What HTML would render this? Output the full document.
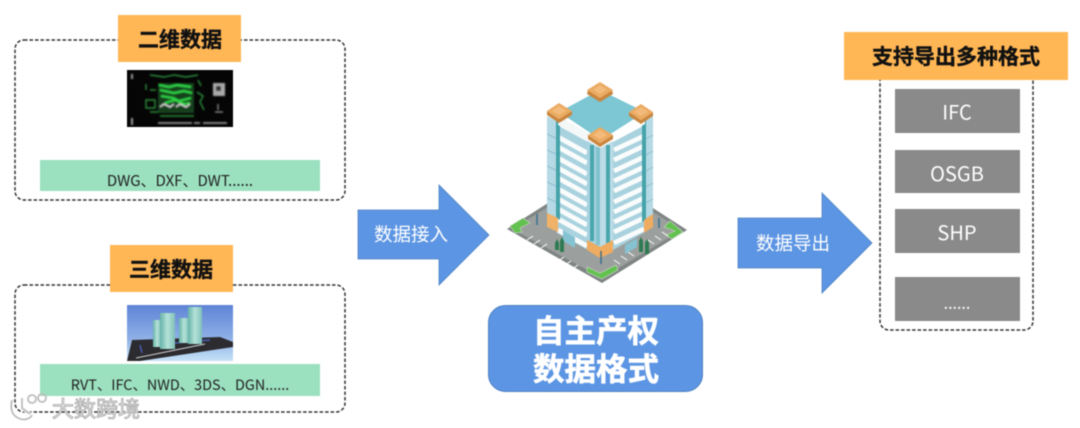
<!DOCTYPE html>
<html><head><meta charset="utf-8"><style>
html,body{margin:0;padding:0;background:#fff;width:1080px;height:428px;overflow:hidden}
svg{display:block;filter:blur(.45px)}
text{font-family:"Noto Sans CJK SC","Liberation Sans",sans-serif;text-anchor:middle}
</style></head><body>
<svg width="1080" height="428" viewBox="0 0 1080 428" xmlns="http://www.w3.org/2000/svg">
<defs>
<linearGradient id="sky" x1="0" y1="0" x2="0" y2="1"><stop offset="0" stop-color="#5f84d6"/><stop offset=".6" stop-color="#8fb0e6"/><stop offset="1" stop-color="#c5e2f7"/></linearGradient>
<linearGradient id="tw" x1="0" y1="0" x2="1" y2="0"><stop offset="0" stop-color="#66b3a8"/><stop offset=".5" stop-color="#b5e2d8"/><stop offset="1" stop-color="#7fc0b8"/></linearGradient>
<filter id="soft" x="-10%" y="-10%" width="120%" height="120%"><feGaussianBlur stdDeviation=".7"/></filter>
</defs>
<rect width="1080" height="428" fill="#fff"/>

<!-- 2D panel -->
<rect x="15" y="40" width="330" height="160" rx="9" fill="none" stroke="#333" stroke-width="1.5" stroke-dasharray="3.5 2"/>
<rect x="118" y="15" width="123" height="47" fill="#ffb655"/>
<text x="180" y="47" font-size="21" font-weight="700" fill="#111" stroke="#111" stroke-width=".4">二维数据</text>
<rect x="127" y="70" width="106" height="57" fill="#050505"/>
<g filter="url(#soft)">
<rect x="158" y="83" width="36" height="30" fill="#15401c"/>
<g fill="none">
<path d="M159 85l10 2 8-2 14 2M160 90l14 3 10-2 8 2M161 96l12 2 6 3 12-3M165 103l10-3 9 4 6-1" stroke="#2fd145" stroke-width="2.4"/>
<path d="M150 75l14 2 10-2 12 2 12-2M146 84v6M150 90h6M146 100h9v8h-9zM150 112h8M198 80l3 6M197 92l6 4-3 6 4 8M160 116h34" stroke="#2a8f3a" stroke-width="1.4"/>
<path d="M160 107l4-3 6 3 4-3M176 107l4-3 6 3 4-3" stroke="#ddd" stroke-width="1.4"/>
<path d="M158 123h30M186 123h6M194 123h6M203 123h24" stroke="#aaa" stroke-width="1.4"/>
<path d="M132 74v5M132 118v7" stroke="#ccc" stroke-width="1.5"/>
<path d="M218 104v6M215 112h8" stroke="#bbb"/>
</g>
<rect x="213" y="83" width="12" height="13" fill="#aaa"/><rect x="216" y="86" width="5" height="5" fill="#333"/>
</g>
<rect x="40" y="160" width="280" height="31" fill="#9be0bf"/>
<text x="180" y="186" font-size="15" fill="#222">DWG、DXF、DWT......</text>

<!-- 3D panel -->
<rect x="15" y="285" width="330" height="127" rx="9" fill="none" stroke="#333" stroke-width="1.5" stroke-dasharray="3.5 2"/>
<rect x="110" y="245" width="123" height="47" fill="#ffb655"/>
<text x="171" y="277" font-size="21" font-weight="700" fill="#111" stroke="#111" stroke-width=".4">三维数据</text>
<rect x="127" y="305" width="106" height="56" fill="url(#sky)"/>
<polygon points="132,340 220,337 233,342 233,347 140,361 127,361" fill="#2c2c30"/>
<path d="M136 358L205 344" stroke="#cfcfcf" stroke-width="1"/>
<path d="M140 345l2 8M175 343l35-3" stroke="#4a5bb0" stroke-width="1.5"/>
<rect x="153" y="320" width="8" height="27" fill="url(#tw)"/>
<rect x="160" y="313" width="15" height="36" fill="url(#tw)"/>
<rect x="179" y="318" width="10" height="25" fill="url(#tw)"/>
<rect x="188" y="307" width="14" height="37" fill="url(#tw)"/>

<rect x="40" y="364" width="280" height="32" fill="#9be0bf"/>
<text x="180" y="390" font-size="14.400" fill="#222">RVT、IFC、NWD、3DS、DGN......</text>

<!-- watermark -->
<g>
<g fill="none" stroke="#fff" stroke-width="4" opacity=".85">
<path d="M12 400c-2 9 0 15 6 18s12 1 14-3M22 398l0 10l8 6"/>
</g>
<g fill="none" stroke="#bdbdbd" stroke-width="1.8">
<path d="M12 400c-2 9 0 15 6 18s12 1 14-3M22 398l0 10l8 6"/>
<circle cx="32" cy="399" r="4"/><circle cx="42" cy="398" r="4"/>
</g>
<text x="96" y="417" font-size="22" fill="#e8e8e8" stroke="#a8a8a8" stroke-width=".8">大数跨境</text>
</g>

<!-- arrows -->
<polygon points="358,210 439,210 439,185 489,235 439,285 439,259 358,259" fill="#5c95e3" stroke="#4f82c4" stroke-width=".8"/>
<text x="411" y="241" font-size="18.500" fill="#fff">数据接入</text>
<polygon points="738,218 822,218 822,193 872,243 822,293 822,268 738,268" fill="#5c95e3" stroke="#4f82c4" stroke-width=".8"/>
<text x="793" y="250" font-size="18.500" fill="#fff">数据导出</text>

<!-- ground -->
<polygon points="507,229 597,172 687,230 602,283" fill="#7f8584"/>
<polygon points="512,229 597,177 682,230 602,278" fill="#9b9f9d"/>
<g fill="#63c24f" stroke="#cfd8cf" stroke-width=".6">
<polygon points="510,226 523,218 530,223 520,228 522,232 515,233"/>
<polygon points="664,227 670,221 683,232 672,239 666,235 675,231"/>
<polygon points="587,267 600,273 616,265 618,270 602,279 587,272"/>
</g>
<path d="M533 236l-6 4M540 240l-6 4M547 244l-6 4M564 257l-6 4M571 261l-6 4M578 265l-6 4M620 264l-6-4M627 260l-6-4M634 256l-6-4M654 244l-6-4M661 240l-6-4M668 236l-6-4" stroke="#fff" stroke-width="1" fill="none"/>

<!-- faces -->
<polygon points="557,125 588,142 588,250 557,233" fill="#a9d2df"/>
<polygon points="613,142 645,125 645,232 613,250" fill="#a9d2df"/>
<g stroke="#fafcfc" stroke-width="4.800" fill="none">
<path d="M558 137l29 16M558 147l29 16M558 158l29 16M558 168l29 16M558 178l29 16M558 189l29 16M558 199l29 16M558 209l29 16M558 219l29 16M558 230l29 16"/>
<path d="M614 150l30-14M614 160l30-14M614 171l30-14M614 181l30-14M614 191l30-14M614 202l30-14M614 212l30-14M614 222l30-14M614 232l30-14M614 243l30-14"/>
</g>
<!-- corner columns -->
<polygon points="547,116 558,122 558,218 547,213" fill="#b5d9e5"/>
<path d="M547 134l11 5M547 150l11 5M547 166l11 5M547 182l11 5M547 198l11 5" stroke="#8cc0d0" fill="none"/>
<polygon points="556,121 560,123 560,220 556,218" fill="#45a3a9"/>
<polygon points="644,122 653,116 653,214 644,220" fill="#b5d9e5"/>
<path d="M644 140l9-5M644 156l9-5M644 172l9-5M644 188l9-5M644 204l9-5" stroke="#8cc0d0" fill="none"/>
<polygon points="642,122 646,120 646,220 642,222" fill="#45a3a9"/>
<polygon points="587,138 600,146 600,247 587,240" fill="#a9d3e0"/>
<polygon points="600,146 613,138 613,240 600,247" fill="#bcdce7"/>
<rect x="590" y="145" width="4" height="96" fill="#4aa7ad"/>
<rect x="596" y="147" width="4" height="98" fill="#7fc3cf"/>
<rect x="606" y="145" width="4" height="98" fill="#4aa7ad"/>
<!-- base -->
<polygon points="547,213 558,218 558,232 547,227" fill="#f0b268"/>
<polygon points="587,240 600,247 613,240 613,252 600,258 587,250" fill="#efac60"/>
<polygon points="644,220 653,214 653,227 644,233" fill="#efac60"/>
<polygon points="563,230 575,237 575,248 563,241" fill="#86c3d2"/>
<polygon points="625,245 637,238 637,247 625,254" fill="#86c3d2"/>
<!-- roof -->
<polygon points="559,112 600,90 645,112 601,140" fill="#7cc7d3"/>
<polygon points="558,125 600,148 600,140 559,116" fill="#f4f7f7"/>
<polygon points="600,148 645,124 645,116 600,140" fill="#ffffff"/>
<!-- caps -->
<g>
<polygon points="588,90 600,98 612,90 613,94 600,102 587,94" fill="#c9863f"/><polygon points="600,82 613,90 600,98 587,90" fill="#ecab62"/><polygon points="600,85 607,90 600,94 593,90" fill="#f2bb7c"/>
<polygon points="547,111 559,119 572,111 572,115 559,123 547,115" fill="#c9863f"/><polygon points="559,103 572,111 559,119 547,111" fill="#ecab62"/><polygon points="559,106 566,111 559,115 552,111" fill="#f2bb7c"/>
<polygon points="629,112 641,120 653,112 653,116 641,124 629,116" fill="#c9863f"/><polygon points="641,104 653,112 641,120 629,112" fill="#ecab62"/><polygon points="641,107 648,112 641,116 634,112" fill="#f2bb7c"/>
<polygon points="588,135 600,143 613,135 613,139 600,147 588,139" fill="#c9863f"/><polygon points="600,127 613,135 600,143 588,135" fill="#ecab62"/><polygon points="600,130 607,135 600,139 593,135" fill="#f2bb7c"/>
</g>
<!-- trees -->
<g fill="#2e7a52"><polygon points="555,243 557,239 559,243 559,250 555,250"/><polygon points="560,241 562,237 564,241 564,252 560,252"/><polygon points="639,241 641,237 643,241 643,252 639,252"/><polygon points="645,243 647,239 649,243 649,254 645,254"/></g>
<path d="M601 251v13M537 214v11M659 218v10" stroke="#3a6f8e" stroke-width="1.500"/>

<!-- format box -->
<rect x="488.500" y="305.500" width="214" height="86" rx="17" fill="#5c95e3" stroke="#4f82c4"/>
<text x="596" y="342" font-size="31.500" font-weight="700" fill="#fff" stroke="#fff" stroke-width=".6">自主产权</text>
<text x="596" y="380" font-size="31.500" font-weight="700" fill="#fff" stroke="#fff" stroke-width=".6">数据格式</text>

<!-- export panel -->
<rect x="880" y="50" width="153" height="280" rx="9" fill="none" stroke="#333" stroke-width="1.5" stroke-dasharray="3.5 2"/>
<rect x="844" y="32" width="224" height="48" fill="#ffb655"/>
<text x="956" y="64" font-size="21" font-weight="700" fill="#111" stroke="#111" stroke-width=".4">支持导出多种格式</text>
<g fill="#8a8a8a">
<rect x="895" y="89" width="125" height="44"/>
<rect x="895" y="150" width="125" height="43"/>
<rect x="895" y="209" width="125" height="44"/>
<rect x="895" y="277" width="125" height="44"/>
</g>
<g fill="#fff" font-size="20">
<text x="957" y="119.500">IFC</text>
<text x="957" y="181">OSGB</text>
<text x="957" y="240">SHP</text>
<text x="957" y="309" font-size="16">......</text>
</g>
</svg>
</body></html>
